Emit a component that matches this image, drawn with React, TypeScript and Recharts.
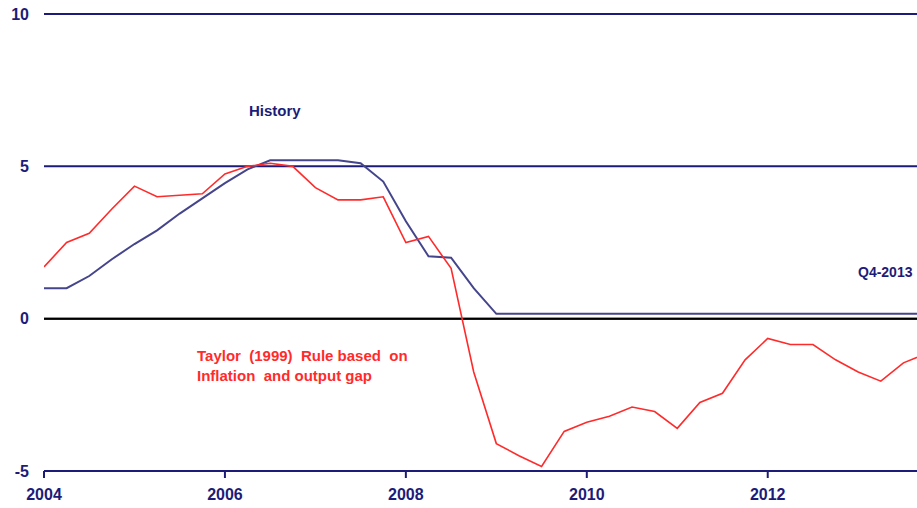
import {
  LineChart,
  Line,
  XAxis,
  YAxis,
  CartesianGrid,
  ReferenceLine,
} from "recharts";

const START_YEAR = 2004;
const X_TICKS = [2004, 2006, 2008, 2010, 2012];
const Y_TICKS = [-5, 0, 5, 10];

// policy rate history, quarterly from Q1-2004
const HISTORY = [
  1.0, 1.0, 1.4, 1.95, 2.45, 2.9, 3.45, 3.95, 4.45, 4.9,
  5.2, 5.2, 5.2, 5.2, 5.1, 4.5, 3.2, 2.05, 2.0, 1.0,
  0.16, 0.16, 0.16, 0.16, 0.16, 0.16, 0.16, 0.16, 0.16, 0.16,
  0.16, 0.16, 0.16, 0.16, 0.16, 0.16, 0.16, 0.16, 0.16, 0.16,
];

// Taylor (1999) rule, quarterly from Q1-2004
const TAYLOR = [
  1.7, 2.5, 2.8, 3.6, 4.35, 4.0, 4.05, 4.1, 4.75, 5.0,
  5.1, 5.0, 4.3, 3.9, 3.9, 4.0, 2.5, 2.7, 1.65, -1.75,
  -4.1, -4.5, -4.85, -3.7, -3.4, -3.2, -2.9, -3.05, -3.6, -2.75,
  -2.45, -1.35, -0.65, -0.85, -0.85, -1.35, -1.75, -2.05, -1.45, -1.15,
];

const NAVY = "#1c1c78";
const NAVY_LINE = "#45458c";
const RED = "#ff2b2b";
const FONT = "'Liberation Sans', Arial, sans-serif";

const data = HISTORY.map((h, i) => ({
  t: START_YEAR + i / 4,
  history: h,
  taylor: TAYLOR[i],
}));

const tickStyle = { fontSize: 16, fontWeight: 700, fill: NAVY, fontFamily: FONT };

export default function App() {
  return (
    <div style={{ position: "absolute", left: 0, top: 0, width: 917, height: 508, background: "#fff" }}>
      <LineChart
        width={917}
        height={508}
        data={data}
        margin={{ top: 14, right: 0, left: 0, bottom: 0 }}
      >
        <CartesianGrid horizontal vertical={false} stroke={NAVY} strokeWidth={2} />
        <XAxis
          dataKey="t"
          type="number"
          domain={[2004, 2013.65]}
          allowDataOverflow
          ticks={X_TICKS}
          tick={tickStyle}
          tickSize={7}
          tickMargin={11}
          tickLine={{ stroke: NAVY, strokeWidth: 2 }}
          axisLine={{ stroke: NAVY, strokeWidth: 2 }}
          height={37}
        />
        <YAxis
          type="number"
          domain={[-5, 10]}
          ticks={Y_TICKS}
          tick={tickStyle}
          tickSize={0}
          tickMargin={15}
          tickLine={false}
          axisLine={false}
          width={44}
        />
        <ReferenceLine y={0} stroke="#000" strokeWidth={2} />
        <Line
          type="linear"
          dataKey="history"
          stroke={NAVY_LINE}
          strokeWidth={2}
          dot={false}
          isAnimationActive={false}
        />
        <Line
          type="linear"
          dataKey="taylor"
          stroke={RED}
          strokeWidth={1.6}
          dot={false}
          isAnimationActive={false}
        />
      </LineChart>
      <div
        style={{
          position: "absolute",
          left: 249,
          top: 102,
          fontFamily: FONT,
          fontWeight: 700,
          fontSize: 15,
          color: NAVY,
        }}
      >
        History
      </div>
      <div
        style={{
          position: "absolute",
          left: 858,
          top: 264,
          fontFamily: FONT,
          fontWeight: 700,
          fontSize: 14,
          color: NAVY,
          whiteSpace: "nowrap",
        }}
      >
        Q4-2013
      </div>
      <div
        style={{
          position: "absolute",
          left: 197,
          top: 346,
          fontFamily: FONT,
          fontWeight: 700,
          fontSize: 15,
          lineHeight: "20px",
          color: RED,
          whiteSpace: "pre",
        }}
      >
        {"Taylor  (1999)  Rule based  on\nInflation  and output gap"}
      </div>
    </div>
  );
}
